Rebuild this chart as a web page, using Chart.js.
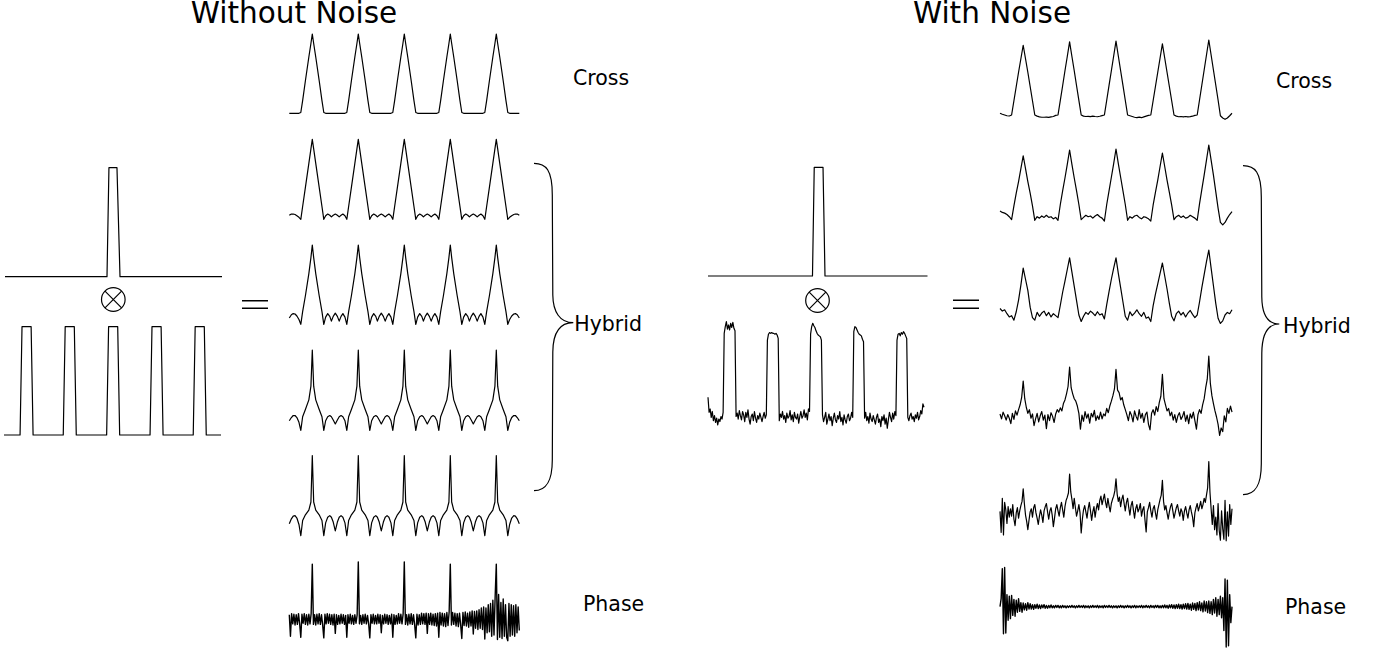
<!DOCTYPE html>
<html>
<head>
<meta charset="utf-8">
<title>Cross / Hybrid / Phase correlation</title>
<script src="https://cdn.jsdelivr.net/npm/chart.js@4.4.1/dist/chart.umd.min.js"></script>
<style>
  html, body { margin: 0; padding: 0; background: #fff; }
  #page { position: relative; width: 1388px; height: 651px; overflow: hidden; background: #fff; }
  #page canvas { position: absolute; }
  #deco { position: absolute; left: 0; top: 0; }
  #deco text { font-family: 'DejaVu Sans', sans-serif; fill: #000; }
  #deco .ink { fill: none; stroke: #000; stroke-width: 1.2; }
</style>
</head>
<body>
<div id="page">
<svg id="deco" width="1388" height="651">
  <text x="294" y="22.7" font-size="29.5" text-anchor="middle">Without Noise</text>
  <text x="992" y="22.7" font-size="29.5" text-anchor="middle">With Noise</text>

  <text x="573" y="85" font-size="20.5">Cross</text>
  <text x="574.3" y="330.5" font-size="20.5">Hybrid</text>
  <text x="583" y="611" font-size="20.5">Phase</text>
  <text x="1276" y="87.5" font-size="20.5">Cross</text>
  <text x="1283" y="333" font-size="20.5">Hybrid</text>
  <text x="1285" y="614" font-size="20.5">Phase</text>

  <!-- curly braces -->
  <path class="ink" d="M534 163.3 C546 163.3 552.3 170 552.3 195 L552.8 295 C553 312 560 322.7 573.3 322.7 C560 322.7 553 333 552.8 352 L552.3 460 C552.3 482 546 490.7 534 490.7"/>
  <path class="ink" d="M1243 165.7 C1255 165.7 1261.3 172 1261.3 197 L1261.8 297 C1262 314 1267 324 1279.3 324 C1267 324 1262 334 1261.8 353 L1261.3 464 C1261.3 486 1255 494.6 1243 494.6"/>

  <!-- convolution signs -->
  <circle class="ink" cx="113.3" cy="299.5" r="11.8"/>
  <path class="ink" d="M105 291.2 L121.6 307.8 M121.6 291.2 L105 307.8"/>
  <circle class="ink" cx="817.5" cy="300.5" r="11.8"/>
  <path class="ink" d="M809.2 292.2 L825.8 308.8 M825.8 292.2 L809.2 308.8"/>

  <!-- equals signs -->
  <path class="ink" style="stroke-width:1.5" d="M242 300.7 H268 M242 308.3 H268"/>
  <path class="ink" style="stroke-width:1.5" d="M953 300.3 H979 M953 308.3 H979"/>
</svg>
</div>
<script>
// ---------- data, without noise ----------
const singleLX = [0, 47.0, 47.9, 51.6, 53.0, 100];
const singleLY = [0, 0, 1, 1, 0, 0];

const trainLX = [0, 7.4, 8.3, 12.5, 13.4, 27.3, 28.2, 32.4, 33.3, 47.3, 48.2, 52.4, 53.3,
  67.3, 68.2, 72.4, 73.3, 87.2, 88.1, 92.3, 93.2, 100];
const trainLY = [0, 0, 1, 1, 0, 0, 1, 1, 0, 0, 1, 1, 0, 0, 1, 1, 0, 0, 1, 1, 0, 0];

// sample positions shared by the noiseless correlation traces
const gridL = [
  0, 0.9, 1.7, 2.5, 3.3, 4.2, 5, 5.8, 7, 8.5, 9.4, 10, 10.6, 11.5, 13, 14.2, 15, 15.8, 16.7, 17.6, 18.3, 19.1,
  20, 20.9, 21.7, 22.5, 23.3, 24.2, 25, 25.8, 27, 28.5, 29.4, 30, 30.6, 31.5, 33, 34.2, 35, 35.8, 36.7, 37.6, 38.3, 39.1,
  40, 40.9, 41.7, 42.5, 43.3, 44.2, 45, 45.8, 47, 48.5, 49.4, 50, 50.6, 51.5, 53, 54.2, 55, 55.8, 56.7, 57.6, 58.3, 59.1,
  60, 60.9, 61.7, 62.5, 63.3, 64.2, 65, 65.8, 67, 68.5, 69.4, 70, 70.6, 71.5, 73, 74.2, 75, 75.8, 76.7, 77.6, 78.3, 79.1,
  80, 80.9, 81.7, 82.5, 83.3, 84.2, 85, 85.8, 87, 88.5, 89.4, 90, 90.6, 91.5, 93, 94.2, 95, 95.8, 96.7, 97.6, 98.3, 99.1,
  100
];

const crossL = [
  0, 0, 0, 0, 0, 0, 1, 16, 41, 71, 88, 100, 88, 71, 41, 16, 1, 0, 0, 0, 0, 0,
  0, 0, 0, 0, 0, 0, 1, 16, 41, 71, 88, 100, 88, 71, 41, 16, 1, 0, 0, 0, 0, 0,
  0, 0, 0, 0, 0, 0, 1, 16, 41, 71, 88, 100, 88, 71, 41, 16, 1, 0, 0, 0, 0, 0,
  0, 0, 0, 0, 0, 0, 1, 16, 41, 71, 88, 100, 88, 71, 41, 16, 1, 0, 0, 0, 0, 0,
  0, 0, 0, 0, 0, 0, 1, 16, 41, 71, 88, 100, 88, 71, 41, 16, 1, 0, 0, 0, 0, 0,
  0
];

const hybrid1L = [
  5, 6.5, 6.6, 6, 4.5, 2.5, 0, 16, 40, 70, 88, 100, 88, 70, 40, 16, 0, 4.5, 6.6, 5, 3, 5,
  6.6, 5, 3, 5, 6.6, 4.5, 0, 16, 40, 70, 88, 100, 88, 70, 40, 16, 0, 4.5, 6.6, 5, 3, 5,
  6.6, 5, 3, 5, 6.6, 4.5, 0, 16, 40, 70, 88, 100, 88, 70, 40, 16, 0, 4.5, 6.6, 5, 3, 5,
  6.6, 5, 3, 5, 6.6, 4.5, 0, 16, 40, 70, 88, 100, 88, 70, 40, 16, 0, 4.5, 6.6, 5, 3, 5,
  6.6, 5, 3, 5, 6.6, 4.5, 0, 16, 40, 70, 88, 100, 88, 70, 40, 16, 0, 2.5, 4.5, 6, 6.6, 6.5,
  5
];

const hybrid2L = [
  8, 12, 13.5, 13, 10.5, 6, 0, 16, 36, 64, 84, 100, 84, 64, 36, 16, 0, 9, 13.5, 10, 4, 10,
  14, 10, 4, 10, 13.5, 9, 0, 16, 36, 64, 84, 100, 84, 64, 36, 16, 0, 9, 13.5, 10, 4, 10,
  14, 10, 4, 10, 13.5, 9, 0, 16, 36, 64, 84, 100, 84, 64, 36, 16, 0, 9, 13.5, 10, 4, 10,
  14, 10, 4, 10, 13.5, 9, 0, 16, 36, 64, 84, 100, 84, 64, 36, 16, 0, 9, 13.5, 10, 4, 10,
  14, 10, 4, 10, 13.5, 9, 0, 16, 36, 64, 84, 100, 84, 64, 36, 16, 0, 6, 10.5, 13, 13.5, 12,
  8
];

const hybrid3L = [
  12, 16, 18.5, 18.5, 16, 10, 0, 17, 26, 38, 55, 100, 55, 38, 26, 17, 0, 12, 17, 18.5, 17, 13,
  8, 13, 17, 18.5, 17, 12, 0, 17, 26, 38, 55, 100, 55, 38, 26, 17, 0, 12, 17, 18.5, 17, 13,
  8, 13, 17, 18.5, 17, 12, 0, 17, 26, 38, 55, 100, 55, 38, 26, 17, 0, 12, 17, 18.5, 17, 13,
  8, 13, 17, 18.5, 17, 12, 0, 17, 26, 38, 55, 100, 55, 38, 26, 17, 0, 12, 17, 18.5, 17, 13,
  8, 13, 17, 18.5, 17, 12, 0, 17, 26, 38, 55, 100, 55, 38, 26, 17, 0, 10, 16, 18.5, 18.5, 16,
  12
];

const hybrid4L = [
  15, 21, 24.5, 25, 22, 14, 0, 19, 26, 32, 42, 100, 42, 32, 26, 19, 0, 16, 23, 25, 23, 17,
  6, 17, 23, 25, 23, 16, 0, 19, 26, 32, 42, 100, 42, 32, 26, 19, 0, 16, 23, 25, 23, 17,
  6, 17, 23, 25, 23, 16, 0, 19, 26, 32, 42, 100, 42, 32, 26, 19, 0, 16, 23, 25, 23, 17,
  6, 17, 23, 25, 23, 16, 0, 19, 26, 32, 42, 100, 42, 32, 26, 19, 0, 16, 23, 25, 23, 17,
  6, 17, 23, 25, 23, 16, 0, 19, 26, 32, 42, 100, 42, 32, 26, 19, 0, 14, 22, 25, 24.5, 21,
  15
];

// 201 samples over the same span
const phaseL = [
  8, -30, 10, -8, 9, -10, 8, -9, 10, -8, -32, 9, -7, 10, -9, 8, -10, 9, -8, 10,
  98, -9, 8, -10, 9, -8, 10, -9, 8, -10, -33, 9, -8, 10, -7, 9, -9, 8, -10, 9,
  -25, 8, -9, 7, -8, 9, -7, 8, -9, 7, -32, 8, -7, 9, -8, 7, -9, 8, -7, 8,
  102, -8, 7, -9, 8, -7, 9, -8, 7, -8, -33, 8, -7, 9, -8, 7, -8, 9, -7, 8,
  -24, 7, -8, 9, -7, 8, -9, 7, -8, 9, -32, 8, -9, 7, -8, 10, -7, 9, -8, 10,
  102, -9, 8, -10, 9, -8, 10, -9, 8, -10, -33, 9, -10, 8, -9, 11, -8, 10, -9, 11,
  -25, 10, -9, 11, -10, 9, -11, 10, -12, 11, -32, 12, -10, 11, -12, 10, -13, 12, -11, 13,
  98, -10, 12, -9, 11, -12, 10, -13, 11, -10, -34, 12, -11, 13, -12, 11, -14, 13, -12, 15,
  -26, 14, -16, 15, -18, 17, -16, 20, -18, 22, -35, 20, -24, 26, -22, 28, -30, 34, -28, 40,
  98, -36, 44, -32, 30, -34, 36, -30, 26, -32, -38, 28, -30, 26, -28, 24, -30, 26, -24, 22, -20
];

// ---------- data, with noise ----------
const singleRX = [0, 47.6, 48.4, 52.4, 53.3, 100];
const singleRY = [0, 0, 1, 1, 0, 0];

// 201 samples
const trainR = [
  20, 2, 6, -4, 3, -8, -2, -10, -5, -13, -6, -9, -3, -6, 2,
  96, 104, 110, 101, 106, 100, 108, 103, 109, 102, 99,
  -3, 1, -6, 4, -2, -7, 3, -1, -9, 2, -4, 5, -6, -12, -3, 0, -8, 3, -5, -10, -2, -6, 1, -4, -9, -3, 2, -5, -1,
  88, 95, 97, 96, 97, 96, 96, 95, 96, 94, 90,
  -8, 0, -4, 3, -6, -2, -10, 1, -5, -3, 4, -7, -1, -9, 2, -4, -6, 0, -11, -3, 3, -5, -2, 5, -4, 1, -7, 6, 3,
  95, 104, 108, 105, 103, 99, 96, 94, 93, 92, 88,
  -1, -9, -4, 2, -12, -6, 0, -8, -3, -14, -5, 1, -7, -10, -2, -6, 3, -9, -4, -13, -1, -7, -11, -3, 0, -8, -5, 2, -4,
  98, 104, 103, 100, 97, 95, 94, 93, 89, 86,
  -5, 2, -8, -3, -11, 1, -6, -9, -2, -7, -12, -4, 0, -10, -6, -15, -3, -8, -1, -12, -5, -17, -7, 2, -4, -9, 1, -6, 3, -2,
  88, 95, 96, 93, 97, 95, 98, 96, 93, 90,
  -4, -8, -2, 1, -6, -3, -9, -1, -5, 2, -7, -3, 4, 0, 12, 8
];

// 101 samples
const crossR = [
  2.3, 1, 0, -1, -1.3,
  0, 19, 38, 57, 75, 93, 75, 57, 38, 19, 0,
  -1.5, -2.5, -3, -3, -2.8, -3.2, -2.5, -2, -0.5,
  0, 19.5, 39, 59, 78, 97.6, 78, 59, 39, 19.5, 0,
  -1.5, -2, -1.8, -2.2, -1.5, -2, -2.3, -1.7, -0.8,
  0, 19.7, 39.4, 59, 78.7, 98.4, 78.7, 59, 39.4, 19.7, 0,
  -1, -2, -3, -3.5, -2.8, -3.6, -2.5, -1.5, -0.5,
  0, 19, 38, 57, 76, 94.9, 76, 57, 38, 19, 0,
  -1.5, -2.3, -2, -2.5, -2, -2.6, -2.2, -1.6, -0.5,
  0, 20, 40, 60, 80, 100, 80, 60, 40, 20, -1, -4, -5.7, -4, -1, 2.3
];

// 101 samples
const hybrid1R = [
  8, 6, 5, 3, 0,
  -4, 15, 33, 49, 67, 85, 67, 49, 33, 15, -5,
  0, -2, 1, -1, 2, -1, 0, -3, -1,
  -5, 17, 36, 54, 73, 93, 73, 54, 36, 17, -4,
  -1, 2, 0, 1, -2, 1, 3, 0, -2,
  -6, 17, 36, 55, 74, 94.4, 74, 55, 36, 17, -5,
  0, -2, 1, 2, -1, -3, 0, -1, -3,
  -6, 16, 34, 51, 70, 88.8, 70, 51, 34, 16, -4,
  0, 2, -1, 1, -2, -1, 2, 0, -2,
  -5, 18, 38, 58, 79, 100, 79, 58, 35, 12, -8, -11.5, -8, -2, 3, 7
];

// 101 samples
const hybrid2R = [
  10, 6, 8, 2, -3, -1, -8, 5, 23, 46, 72, 55, 38, 12, -4, -8,
  4, -2, 3, 6, -1, 4, -3, 2, -1,
  -4, 15, 35, 52, 70, 88, 66, 44, 22, 0, -10,
  -2, 4, 1, 6, 3, -1, 5, 0, 2,
  -6, 16, 36, 55, 72, 88, 64, 42, 20, -2, -8,
  5, -1, 3, 8, 2, -2, 4, -5, -3,
  -10, 14, 32, 48, 64, 80, 60, 40, 18, -2, -9,
  2, 6, 0, 4, -3, 3, 7, 1, -4,
  0, 20, 42, 62, 82, 100, 72, 45, 18, -5, -13, -9, 0, 4, 2, 8
];

// 151 samples
const hybrid3R = [
  5, -3, 8, 2, -5, 4, -2, -11,
  6, -4, 10, 3, 12, 20, 32, 59, 30, 16, 6, 12, -2, 5, -14,
  -3, 6, -8, 2, 9, -5, 3, -19, 4, -6, 7, 1, -9, 5, 12,
  8, 15, 10, 22, 28, 38, 50, 82, 48, 38, 30, 26, 18, 6, -20,
  3, -7, 9, -2, 5, -10, 6, 0, 11, -6, 2, -4, 8, -3, 5,
  2, 14, 7, 18, 26, 35, 46, 78, 44, 40, 28, 32, 20, 12, 4,
  -6, 9, 3, -8, 10, 1, -5, 12, -2, 6, -9, 4, 8, -12, -21,
  6, 12, 3, 17, 9, 24, 34, 70, 30, 20, 10, 14, 2, 8, -5,
  4, -9, 2, 7, -4, 1, 9, -7, 3, -11, 5, -2, 8, -6, -20,
  4, 12, 6, 20, 30, 48, 62, 100, 55, 35, 22, 10, 0, -12, -30,
  -18, -24, 2, -8, 14, 6, 18, 8
];

// 201 samples
const hybrid4R = [
  5, -35, 30, -40, 22, 8, -18, 14, -6, 10, -4, 18, -10, -22, 2, 12, -8, 6, 16, 24,
  48, 20, -2, -14, -30, -12, 4, 10, -6, 12, 18, 2, -8, -20, -4, 8, -2, -16, 6, 14,
  20, 4, -10, 6, 12, -2, -24, -8, 10, 18, 6, -4, 12, 22, 8, -6, 14, 26, 32, 40,
  76, 42, 28, 10, 30, 12, -4, 6, 18, 2, -36, -10, 8, 16, 4, -8, 10, 22, 6, -12,
  4, 14, -6, 10, 20, 8, 26, 34, 18, 28, 38, 22, 12, 30, 16, 4, 20, 28, 34, 44,
  67, 38, 24, 32, 14, 28, 36, 20, 6, 22, 30, 12, -2, 16, 24, 8, -8, 10, 18, 4,
  10, 20, -4, 8, 14, -12, -34, 4, 12, 22, 6, -6, 10, 16, 2, -10, 8, 18, 28, 36,
  64, 24, 8, 16, 2, -10, 4, 14, 20, 6, -8, 2, 12, 18, 6, -4, 10, 4, -12, 6,
  14, 2, -8, 8, 16, 4, -6, -24, 2, 12, 20, 6, 14, 24, 10, 18, 30, 22, 36, 50,
  100, 42, 10, -20, 16, -30, -6, -40, 20, -32, -50, 6, -28, -48, 26, -51, 4, -42, 18, -20, 10
];

// 201 samples
const phaseR = [
  0, 20, 95, -68, 98, -66, 30, -34, 26, -30, 28, -22, 18, -24, 16, -14, 20, -12, 10, -14,
  9, -8, 7, -9, 10, -6, 7, -6, 5, -7, 5, -4, 6, -5, 4, -5, 4, -3, 5, -4,
  3, -4, 3, -3, 4, -3, 2, -3, 3, -2, 3, -3, 2, -3, 3, -2, 2, -3, 2, -2,
  2, -2, 3, -2, 2, -3, 2, -2, 3, -2, 2, -2, 3, -3, 2, -2, 2, -3, 2, -2,
  3, -2, 2, -2, 3, -3, 2, -2, 2, -3, 3, -2, 2, -2, 3, -2, 2, -3, 2, -2,
  2, -3, 2, -2, 3, -2, 2, -3, 2, -2, 3, -2, 2, -3, 2, -2, 3, -3, 2, -2,
  2, -2, 3, -3, 2, -2, 3, -2, 2, -3, 3, -2, 2, -3, 3, -2, 3, -3, 2, -3,
  3, -3, 4, -3, 3, -4, 4, -3, 5, -4, 4, -5, 5, -4, 6, -5, 5, -6, 6, -5,
  7, -6, 8, -7, 6, -9, 9, -7, 8, -10, 10, -8, 12, -10, 9, -13, 14, -11, 12, -15,
  14, -17, 12, -20, 18, -16, 22, -24, 18, -20, 26, -28, 22, -60, 69, -101, 66, -98, 30, -40, 0
];

// ---------- placement on the page (pixels) ----------
// x: [left, right] of the 0..100 span, y: two [value, pixel] pairs
const colL = [289.3, 519.3];
const colR = [1000, 1232];
const place = {
  singleL: { x: [5, 222], y: [[0, 276.7], [1, 167.7]] },
  trainL: { x: [4, 221], y: [[0, 435], [1, 326.7]] },
  crossL: { x: colL, y: [[0, 113.3], [100, 34]] },
  hybrid1L: { x: colL, y: [[0, 219.3], [100, 139.3]] },
  hybrid2L: { x: colL, y: [[0, 324.3], [100, 245]] },
  hybrid3L: { x: colL, y: [[0, 430.4], [100, 350]] },
  hybrid4L: { x: colL, y: [[0, 535.7], [100, 455.5]] },
  phaseL: { x: colL, y: [[0, 619.3], [100, 563]], w: 1.4 },
  singleR: { x: [708, 927.5], y: [[0, 276], [1, 167.3]] },
  trainR: { x: [708, 924], y: [[0, 414], [100, 330]] },
  crossR: { x: colR, y: [[0, 115], [100, 40]] },
  hybrid1R: { x: colR, y: [[0, 216.7], [100, 145]] },
  hybrid2R: { x: colR, y: [[0, 315], [100, 250]] },
  hybrid3R: { x: colR, y: [[0, 417], [100, 356]] },
  hybrid4R: { x: colR, y: [[0, 514], [100, 461.5]] },
  phaseR: { x: colR, y: [[0, 606.6], [100, 566.6]], w: 1.4 }
};

// evenly spaced sample positions over 0..100
function evenX(values) {
  return values.map((_, i) => i * 100 / (values.length - 1));
}

function trace(xs, ys, where) {
  const pad = 4;
  const k = (where.y[0][1] - where.y[1][1]) / (where.y[1][0] - where.y[0][0]);
  const yMin = Math.min(...ys);
  const yMax = Math.max(...ys);
  const top = where.y[1][1] - (yMax - where.y[1][0]) * k;
  const bottom = where.y[0][1] + (where.y[0][0] - yMin) * k;
  const left = where.x[0];
  const right = where.x[1];

  const cLeft = Math.floor(left) - pad;
  const cTop = Math.floor(top) - pad;
  const cW = Math.ceil(right) + pad - cLeft;
  const cH = Math.ceil(bottom) + pad - cTop;

  const canvas = document.createElement('canvas');
  canvas.width = cW;
  canvas.height = cH;
  canvas.style.left = cLeft + 'px';
  canvas.style.top = cTop + 'px';
  canvas.style.width = cW + 'px';
  canvas.style.height = cH + 'px';
  document.getElementById('page').appendChild(canvas);

  return new Chart(canvas, {
    type: 'line',
    data: {
      datasets: [{
        data: xs.map((x, i) => ({ x: x, y: ys[i] })),
        borderColor: '#000',
        borderWidth: where.w || 1.2,
        borderJoinStyle: 'round',
        pointRadius: 0,
        tension: 0,
        clip: false
      }]
    },
    options: {
      responsive: false,
      animation: false,
      events: [],
      layout: {
        padding: {
          left: left - cLeft,
          right: cLeft + cW - right,
          top: top - cTop,
          bottom: cTop + cH - bottom
        }
      },
      plugins: { legend: { display: false }, tooltip: { enabled: false } },
      scales: {
        x: { type: 'linear', display: false, min: 0, max: 100 },
        y: { display: false, min: yMin, max: yMax }
      }
    }
  });
}

trace(singleLX, singleLY, place.singleL);
trace(trainLX, trainLY, place.trainL);
trace(gridL, crossL, place.crossL);
trace(gridL, hybrid1L, place.hybrid1L);
trace(gridL, hybrid2L, place.hybrid2L);
trace(gridL, hybrid3L, place.hybrid3L);
trace(gridL, hybrid4L, place.hybrid4L);
trace(evenX(phaseL), phaseL, place.phaseL);

trace(singleRX, singleRY, place.singleR);
trace(evenX(trainR), trainR, place.trainR);
trace(evenX(crossR), crossR, place.crossR);
trace(evenX(hybrid1R), hybrid1R, place.hybrid1R);
trace(evenX(hybrid2R), hybrid2R, place.hybrid2R);
trace(evenX(hybrid3R), hybrid3R, place.hybrid3R);
trace(evenX(hybrid4R), hybrid4R, place.hybrid4R);
trace(evenX(phaseR), phaseR, place.phaseR);
</script>
</body>
</html>
